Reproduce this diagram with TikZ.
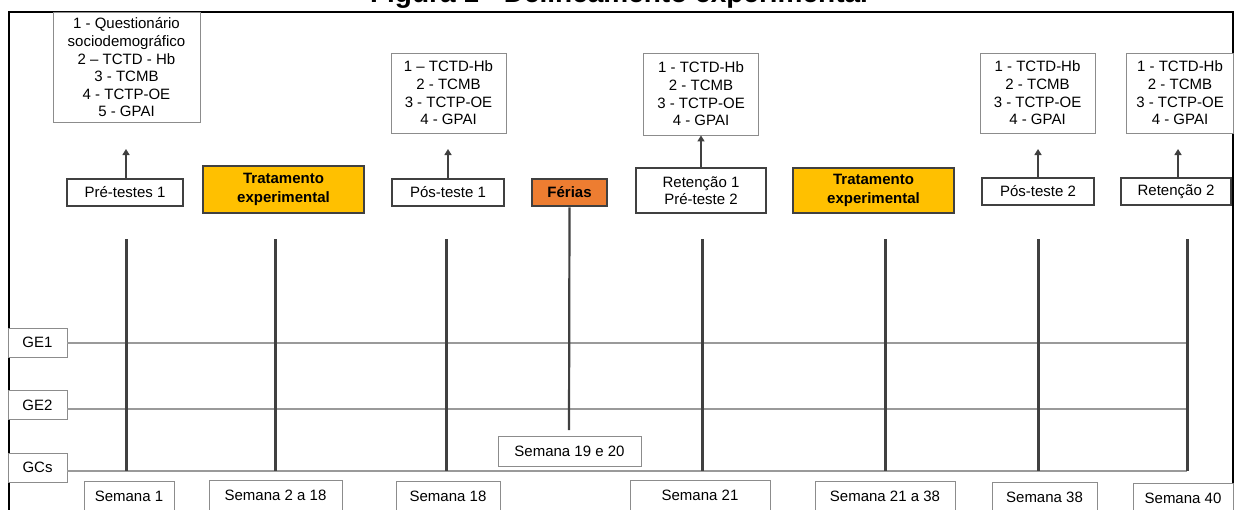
\documentclass[tikz,border=0pt]{standalone}
\usepackage{fontspec}
\setmainfont{Liberation Sans}
\usetikzlibrary{arrows.meta}
\definecolor{dk}{HTML}{404040}
\definecolor{thin}{HTML}{8C8C8C}
\definecolor{hl}{HTML}{9A9A9A}
\definecolor{ylw}{HTML}{FFC000}
\definecolor{org}{HTML}{ED7D31}
\newcommand{\fs}{\fontsize{15}{17.6}\selectfont}
\tikzset{
  topbox/.style={draw=thin, line width=0.9pt, fill=white, align=center, inner sep=0pt, font=\fs},
  lowbox/.style={draw=dk, line width=2.6pt, fill=white, align=center, inner sep=0pt, font=\fs},
  treat/.style={lowbox, fill=ylw, font=\bfseries\fontsize{15}{19}\selectfont},
  weekbox/.style={draw=thin, line width=0.9pt, fill=white, inner sep=0pt, font=\fs},
  grpbox/.style={draw=thin, line width=0.9pt, fill=white, inner sep=0pt, font=\fs, minimum width=59, minimum height=29},
  arr/.style={draw=dk, line width=1.8pt, -{Triangle[length=6pt,width=7pt]}},
  vline/.style={draw=dk, line width=3pt},
  hline/.style={draw=hl, line width=1.3pt},
}
\begin{document}
\begin{tikzpicture}[x=1pt,y=-1pt]
\useasboundingbox (0,0) rectangle (1238,509);
\clip (0,0) rectangle (1238,509);
\fill[white] (0,0) rectangle (1238,509);
% title (cut off at top)
\node[font=\bfseries\fontsize{28}{30}\selectfont, anchor=base, inner sep=0pt] (title) at (619,2) {Figura 1 - Delineamento experimental};
% frame
\draw[black, line width=2pt] (9,530) -- (9,12) -- (1233,12) -- (1233,530);
% horizontal group lines
\node[grpbox] (ge1) at (37.5,342.5) {GE1};
\node[grpbox] (ge2) at (37.5,405) {GE2};
\node[grpbox] (gcs) at (37.5,467.5) {GCs};
\coordinate (e1) at (1187,343);
\coordinate (e2) at (1187,409);
\coordinate (e3) at (1187,471);
\draw[hline] (ge1.east |- e1) -- (e1);
\draw[hline] (ge2.east |- e2) -- (e2);
\draw[hline] (gcs.east |- e3) -- (e3);
% vertical week lines
\foreach \x in {126,275,446,702,885,1038,1187}{
  \draw[vline] (\x,239) -- (\x,471);
}
% top boxes
\node[topbox, minimum width=147, minimum height=110] (t1) at (126.5,67.5) {1 - Questionário\\sociodemográfico\\2 -- TCTD - Hb\\3 - TCMB\\4 - TCTP-OE\\5 - GPAI};
\node[topbox, minimum width=115, minimum height=80] (t2) at (448.5,93) {1 -- TCTD-Hb\\2 - TCMB\\3 - TCTP-OE\\4 - GPAI};
\node[topbox, minimum width=115, minimum height=82] (t3) at (701,94) {1 - TCTD-Hb\\2 - TCMB\\3 - TCTP-OE\\4 - GPAI};
\node[topbox, minimum width=115, minimum height=80] (t4) at (1037.5,93) {1 - TCTD-Hb\\2 - TCMB\\3 - TCTP-OE\\4 - GPAI};
\node[topbox, minimum width=107, minimum height=80] (t5) at (1180,93) {1 - TCTD-Hb\\2 - TCMB\\3 - TCTP-OE\\4 - GPAI};
% lower boxes
\node[lowbox, minimum width=116, minimum height=27] (b1) at (125,192.5) {Pré-testes 1};
\node[treat, minimum width=161, minimum height=47] (b2) at (283.5,189.5) {Tratamento\\experimental};
\node[lowbox, minimum width=112, minimum height=27] (b3) at (448,192.5) {Pós-teste 1};
\node[lowbox, fill=org, font=\bfseries\fontsize{15}{17.6}\selectfont, minimum width=75, minimum height=27] (b4) at (569.5,192.5) {Férias};
\node[lowbox, minimum width=130, minimum height=45] (b5) at (701,190.5) {Retenção 1\\Pré-teste 2};
\node[treat, minimum width=161, minimum height=45] (b6) at (873.5,190.5) {Tratamento\\experimental};
\node[lowbox, minimum width=112, minimum height=27] (b7) at (1038,191.5) {Pós-teste 2};
\node[lowbox, minimum width=110, minimum height=27] (b8) at (1176,191.5) {Retenção 2};
% arrows
\coordinate (a1) at (126,149);
\coordinate (a2) at (448,149);
\coordinate (a4) at (1038,149);
\coordinate (a5) at (1178,149);
\draw[arr] (a1 |- b1.north) -- (a1);
\draw[arr] (a2 |- b3.north) -- (a2);
\draw[arr] (b5.north) -- (t3.south);
\draw[arr] (a4 |- b7.north) -- (a4);
\draw[arr] (a5 |- b8.north) -- (a5);
% ferias line
\coordinate (fe) at (569,430);
\draw[draw=dk, line width=2.2pt] (b4.south) -- (fe);
% week boxes
\node[weekbox, minimum width=143, minimum height=30] (s4) at (569.5,451) {Semana 19 e 20};
\node[weekbox, minimum width=90, minimum height=30, anchor=north] (s1) at (129,481) {Semana 1};
\node[weekbox, minimum width=133, minimum height=30, anchor=north] (s2) at (275.5,480) {Semana 2 a 18};
\node[weekbox, minimum width=104, minimum height=30, anchor=north] (s3) at (448,481) {Semana 18};
\node[weekbox, minimum width=140, minimum height=30, anchor=north] (s5) at (700,480) {Semana 21};
\node[weekbox, minimum width=140, minimum height=30, anchor=north] (s6) at (885,481) {Semana 21 a 38};
\node[weekbox, minimum width=105, minimum height=30, anchor=north] (s7) at (1044.5,482) {Semana 38};
\node[weekbox, minimum width=100, minimum height=30, anchor=north] (s8) at (1183,483) {Semana 40};
\end{tikzpicture}
\end{document}
